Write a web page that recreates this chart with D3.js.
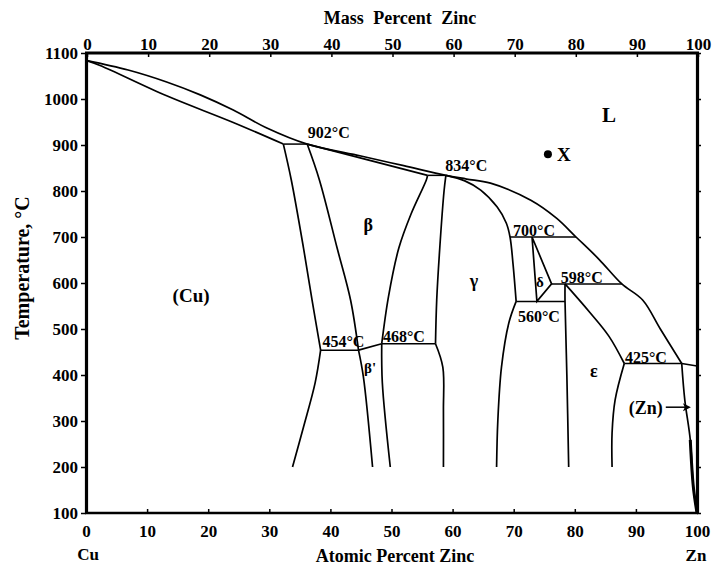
<!DOCTYPE html>
<html>
<head>
<meta charset="utf-8">
<script src="https://cdn.jsdelivr.net/npm/d3@7"></script>
<style>
  html, body { margin: 0; padding: 0; background: #fff; }
  svg { display: block; }
  text { font-family: "Liberation Serif", "Times New Roman", serif; font-weight: bold; fill: #000; }
</style>
</head>
<body>
<svg id="chart" width="716" height="565"></svg>
<script>
// ---------- DATA (atomic % Zn, temperature °C) ----------
const atomicTicks = [0, 10, 20, 30, 40, 50, 60, 70, 80, 90, 100];
const massTicks = [0, 10, 20, 30, 40, 50, 60, 70, 80, 90, 100];
const tempTicks = [100, 200, 300, 400, 500, 600, 700, 800, 900, 1000, 1100];

const liquidus = [[0,1084],[6.9,1063],[13.2,1037],[18.7,1009],[24.1,976],[29.6,937],[36.2,902],
  [45,876],[52,855],[58.9,834],[62.3,826],[66.2,817],[72.8,780],[77,741],[80.2,700],[84,651],
  [87.7,598],[91.1,563],[94,500],[97.5,425]];
const solidusAlpha = [[0,1084],[2.3,1073],[13.2,1007],[24.1,949],[32.3,902]];
const alphaSolvusHigh = [[32.3,902],[33.6,824],[35.6,676],[37.0,563],[38.4,454]];
const alphaSolvusLow = [[38.4,454],[37.5,383],[35.6,287],[33.8,200]];
const betaLeft = [[36.2,902],[38.2,824],[41.1,676],[43.3,563],[44.6,454]];
const betaSolidus = [[36.2,902],[55.9,834]];
const betaRight = [[55.9,834],[55.7,824],[53.2,750],[51.2,676],[49.5,570],[48.4,468]];
const orderLine = [[44.6,454],[48.4,468]];
const betaPrimeLeft = [[44.6,454],[45.4,396],[46.9,200]];
const betaPrimeRight = [[48.4,468],[48.5,383],[49.8,200]];
const gammaLeftHigh = [[58.9,834],[58.6,800],[57.9,676],[57.4,563],[57.2,468]];
const gammaLeftLow = [[57.2,468],[58.4,417],[58.5,324],[58.5,200]];
const gammaRightHigh = [[58.9,834],[62,822],[64.6,802],[67.3,765],[68.8,730],[69.4,700],[69.9,640],[70.4,560]];
const gammaRightLow = [[70.4,560],[69.2,513],[68.0,417],[67.4,300],[67.2,200]];
const deltaField = [[73.0,700],[76.2,598],[73.8,560],[73.0,700]];
const epsLeft = [[78.4,598],[78.4,560],[78.7,400],[79.0,200]];
const epsRightHigh = [[78.4,598],[82.4,537],[85.6,484],[88.1,425]];
const epsRightLow = [[88.1,425],[86.6,346],[86.1,274],[86.1,200]];
const znMelt = [[97.5,425],[100,419.6]];
const znSolvus = [[97.5,425],[98.0,346],[98.9,259],[99.4,157],[100,100]];

// isotherms: [from at%, to at%, temperature]
const isotherms = [[32.3,36.2,902],[55.9,58.9,834],[69.4,80.2,700],[76.2,87.7,598],[70.4,78.4,560],
  [38.4,44.6,454],[48.4,57.2,468],[88.1,97.5,425]];

// temperature labels: [text, at% (start), temperature of baseline]
const isoLabels = [["902°C",36.3,915],["834°C",58.8,843],["700°C",69.9,703],["598°C",77.7,600],
  ["560°C",70.7,515],["425°C",88.2,426],["454°C",38.7,461],["468°C",48.6,472]];

// phase labels: [text, at% (centre), temperature (centre), size]
const phaseLabels = [["(Cu)",17.2,574,19],["β",46.2,726,18],["β'",46.5,415,15],["γ",63.5,604,18],
  ["δ",74.3,602,15],["ε",83.1,409,18],["L",85.6,965,21]];
const pointX = [75.6, 880];
const znLabel = [94.4, 330];

// ---------- DRAWING ----------
const svg = d3.select("#chart");
const x = d3.scaleLinear().domain([0, 100]).range([86, 697]);
const xMass = d3.scaleLinear().domain([0, 100]).range([87, 698]);
const y = d3.scaleLinear().domain([100, 1100]).range([513, 53]);

const line = d3.line().x(d => x(d[0])).y(d => y(d[1])).curve(d3.curveCatmullRom.alpha(0.5));
const straight = d3.line().x(d => x(d[0])).y(d => y(d[1]));

const curves = [liquidus, solidusAlpha, alphaSolvusHigh, alphaSolvusLow, betaLeft, betaRight,
  betaPrimeLeft, betaPrimeRight, gammaLeftHigh, gammaLeftLow, gammaRightHigh, gammaRightLow,
  epsLeft, epsRightHigh, epsRightLow, znSolvus];
const straights = [betaSolidus, orderLine, deltaField, znMelt];

svg.append("g").selectAll("path").data(curves).join("path")
  .attr("d", line).attr("fill", "none").attr("stroke", "#000").attr("stroke-width", 1.7);
svg.append("g").selectAll("path").data(straights).join("path")
  .attr("d", straight).attr("fill", "none").attr("stroke", "#000").attr("stroke-width", 1.7);
svg.append("g").selectAll("line").data(isotherms).join("line")
  .attr("x1", d => x(d[0])).attr("x2", d => x(d[1]))
  .attr("y1", d => y(d[2])).attr("y2", d => y(d[2]))
  .attr("stroke", "#000").attr("stroke-width", 1.5);

// thick Zn solvus end near the axis
svg.append("path").datum(znSolvus.slice(2)).attr("d", line)
  .attr("fill", "none").attr("stroke", "#000").attr("stroke-width", 3);

// axes
function styleAxis(g, w) {
  g.select(".domain").attr("stroke", "#000").attr("stroke-width", w);
  g.selectAll(".tick line").attr("stroke", "#000").attr("stroke-width", 1.5);
  g.selectAll("text").style("font-size", "17px").style("font-family", '"Liberation Serif", serif')
    .style("font-weight", "bold");
}
const fmt = d3.format("d");
const gl = svg.append("g").attr("transform", "translate(86,0)")
  .call(d3.axisLeft(y).tickValues(tempTicks).tickFormat(fmt).tickSize(5).tickSizeOuter(0).tickPadding(3));
styleAxis(gl, 3.2);
const gr = svg.append("g").attr("transform", "translate(697,0)")
  .call(d3.axisRight(y).tickValues(tempTicks).tickSize(4).tickSizeOuter(0).tickFormat(""));
styleAxis(gr, 3.2);
const gt = svg.append("g").attr("transform", "translate(0,53)")
  .call(d3.axisTop(xMass).tickValues(massTicks).tickFormat(fmt).tickSize(-4).tickSizeOuter(0).tickPadding(3));
styleAxis(gt, 3);
gt.select(".domain").attr("d", "M85,0H699");
const gb = svg.append("g").attr("transform", "translate(0,513)")
  .call(d3.axisBottom(x).tickValues(atomicTicks).tickFormat(fmt).tickSize(-4).tickSizeOuter(0).tickPadding(12));
styleAxis(gb, 2.6);
gb.select(".domain").attr("d", "M85,0H698");

// titles
svg.append("text").attr("x", 400).attr("y", 24).attr("text-anchor", "middle")
  .style("font-size", "18px").style("word-spacing", "5px").text("Mass Percent Zinc");
svg.append("text").attr("x", 395).attr("y", 562).attr("text-anchor", "middle")
  .style("font-size", "18px").text("Atomic Percent Zinc");
svg.append("text").attr("x", 88).attr("y", 560).attr("text-anchor", "middle")
  .style("font-size", "17px").text("Cu");
svg.append("text").attr("x", 696).attr("y", 561).attr("text-anchor", "middle")
  .style("font-size", "17px").text("Zn");
svg.append("text").attr("transform", "translate(29,268) rotate(-90)").attr("text-anchor", "middle")
  .style("font-size", "20px").text("Temperature, °C");

// isotherm labels
svg.append("g").selectAll("text").data(isoLabels).join("text")
  .attr("x", d => x(d[1])).attr("y", d => y(d[2]))
  .style("font-size", "16px").text(d => d[0]);

// phase labels
svg.append("g").selectAll("text").data(phaseLabels).join("text")
  .attr("x", d => x(d[1])).attr("y", d => y(d[2])).attr("dy", "0.35em")
  .attr("text-anchor", "middle").style("font-size", d => d[3] + "px").text(d => d[0]);

// point X
svg.append("circle").attr("cx", x(pointX[0])).attr("cy", y(pointX[1])).attr("r", 4).attr("fill", "#000");
svg.append("text").attr("x", x(pointX[0]) + 9).attr("y", y(pointX[1])).attr("dy", "0.35em")
  .style("font-size", "19px").text("X");

// (Zn) label with arrow
svg.append("text").attr("x", x(znLabel[0])).attr("y", y(znLabel[1])).attr("dy", "0.35em")
  .attr("text-anchor", "end").style("font-size", "18px").text("(Zn)");
const ax0 = x(znLabel[0]) + 3, ax1 = x(99.0), ay = y(znLabel[1]);
svg.append("line").attr("x1", ax0).attr("x2", ax1 - 4).attr("y1", ay).attr("y2", ay)
  .attr("stroke", "#000").attr("stroke-width", 1.5);
svg.append("path").attr("d", `M${ax1},${ay}L${ax1 - 8},${ay - 4}L${ax1 - 6},${ay}L${ax1 - 8},${ay + 4}Z`)
  .attr("fill", "#000");
</script>
</body>
</html>
